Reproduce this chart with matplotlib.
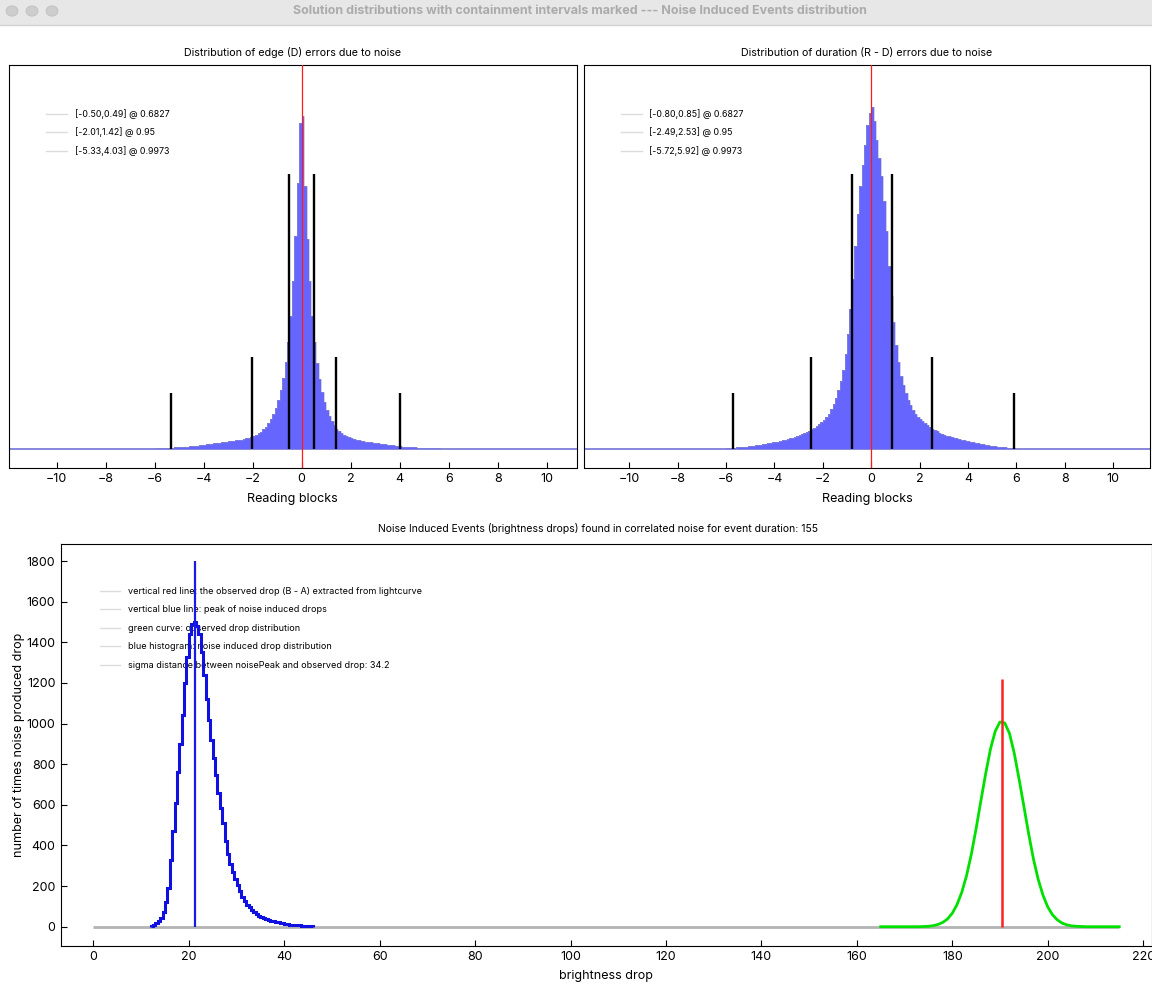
import numpy as np
import matplotlib
matplotlib.use("Agg")
import matplotlib.pyplot as plt
from matplotlib.lines import Line2D
from matplotlib.patches import Rectangle, Circle

plt.rcParams['font.family'] = ['Inter', 'DejaVu Sans']

# ---- data ----
# histogram bins of the two top panels: 0.1 reading blocks wide, -6 .. 6
top_edges = np.round(np.linspace(-6.0, 6.0, 121), 2)

# edge (D) errors, counts per bin (peak bin ~1000), negative side listed from -0.05 outwards
edge_neg = [980, 800, 640, 505, 400, 320, 260, 212, 175, 146,
            122, 103, 88, 76, 66, 58, 51, 46, 42, 38,
            35, 33, 31, 29, 27, 26, 25, 24, 23, 22,
            21, 20, 19, 18, 17, 16, 15, 14, 13, 12,
            11, 10, 9, 8, 8, 7, 6, 6, 5, 5,
            4, 4, 3, 3, 3, 2, 2, 2, 1, 1]
edge_pos = [1000, 790, 630, 505, 400, 320, 258, 208, 170, 140,
            116, 97, 82, 70, 60, 52, 46, 41, 37, 34,
            31, 29, 27, 25, 23, 22, 21, 20, 19, 18,
            17, 16, 15, 14, 13, 12, 11, 10, 9, 8,
            7, 6, 6, 5, 5, 4, 4, 3, 3, 2,
            2, 2, 1, 1, 1, 1, 1, 0, 0, 0]

# duration (R - D) errors
dur_neg = [1010, 975, 915, 855, 790, 705, 610, 510, 420, 345,
           285, 238, 202, 175, 152, 134, 118, 105, 95, 86,
           79, 73, 68, 63, 58, 54, 50, 46, 43, 40,
           37, 35, 33, 31, 29, 27, 25, 23, 21, 20,
           19, 18, 16, 15, 13, 12, 11, 10, 9, 8,
           7, 6, 5, 5, 4, 4, 3, 3, 2, 2]
dur_pos = [1030, 985, 930, 875, 820, 745, 655, 550, 460, 380,
           312, 260, 220, 190, 166, 146, 130, 116, 104, 95,
           88, 82, 77, 71, 65, 60, 56, 52, 48, 45,
           42, 39, 37, 35, 33, 31, 29, 27, 25, 23,
           22, 21, 20, 18, 17, 15, 13, 11, 10, 9,
           8, 7, 6, 5, 5, 4, 3, 3, 2, 2]

edge_counts = edge_neg[::-1] + edge_pos
dur_counts = dur_neg[::-1] + dur_pos

# containment intervals and the height of the marker lines
levels = ['0.6827', '0.95', '0.9973']
marker_heights = [826, 276, 168]
edge_lo = [-0.50, -2.01, -5.33]
edge_hi = [0.49, 1.42, 4.03]
dur_lo = [-0.80, -2.49, -5.72]
dur_hi = [0.85, 2.53, 5.92]

# noise induced drops, 0.5 unit bins from 12 to 46
nie_edges = np.linspace(12, 46, 69)
nie_counts = [3, 10, 18, 30, 45, 70, 120, 190, 330, 470,
              610, 760, 900, 1040, 1200, 1330, 1440, 1490, 1500, 1480,
              1440, 1350, 1240, 1120, 1020, 920, 830, 745, 660, 585,
              510, 420, 360, 310, 270, 235, 205, 175, 145, 125,
              108, 95, 83, 72, 62, 54, 48, 42, 38, 34,
              30, 27, 24, 21, 18, 16, 14, 12, 10, 9,
              8, 7, 6, 5, 4, 4, 3, 2]
noise_peak = 21.2
noise_peak_top = 1800

# observed drop distribution (green curve)
obs_x = list(range(165, 216))
obs_y = [0, 0, 0, 0, 0, 0, 0, 0, 0, 1,
         2, 5, 11, 21, 38, 66, 109, 170, 252, 357,
         483, 620, 753, 874, 962, 1008, 1003, 951, 853, 727,
         594, 459, 335, 234, 156, 98, 59, 34, 18, 9,
         4, 2, 1, 0, 0, 0, 0, 0, 0, 0, 0]
observed_drop = 190.4
observed_top = 1220
sigma_distance = 34.2
event_duration = 155

W, H = 1152, 991
fig = plt.figure(figsize=(W / 100, H / 100), dpi=100)


def px_axes(l, t, r, b):
    return fig.add_axes([l / W, 1 - b / H, (r - l) / W, (b - t) / H])


# fake window title bar
fig.patches.append(Rectangle((0, 1 - 25 / H), 1, 25 / H, transform=fig.transFigure,
                             facecolor='#e7e7e7', edgecolor='none'))
fig.add_artist(Line2D([0, 1], [1 - 25 / H, 1 - 25 / H], transform=fig.transFigure,
                      color='#d0d0d0', lw=1))
for cx in [12, 32, 52]:
    fig.patches.append(Circle((cx / W, 1 - 11 / H), 6 / W, transform=fig.transFigure,
                              facecolor='#cdcdcd', edgecolor='#bdbdbd', lw=0.5))
fig.text(579.5 / W, 1 - 11 / H,
         'Solution distributions with containment intervals marked --- Noise Induced Events distribution',
         ha='center', va='center', fontsize=9, fontweight='bold', color='#ababab')


def top_panel(ax, counts, lo, hi, title, xlim):
    ax.axhline(0, color='#7373d6', lw=1.2, zorder=1)
    ax.stairs(counts, top_edges, fill=True, color='#6666ff', zorder=2)
    ax.stairs(counts, top_edges, color='#9a9ab0', alpha=0.45, lw=0.7, zorder=2)
    for a, b, h in zip(lo, hi, marker_heights):
        ax.vlines([a, b], 0, h, color='black', lw=1.7, zorder=3)
    ax.axvline(0, color='#ff1a1a', lw=0.9, zorder=4)
    handles = [Line2D([], [], color='#dcdcdc', lw=1) for _ in levels]
    labels = ['[%.2f,%.2f] @ %s' % (a, b, p) for a, b, p in zip(lo, hi, levels)]
    ax.legend(handles, labels, loc='upper left', bbox_to_anchor=(0.065, 0.89),
              frameon=False, fontsize=6.4, handlelength=2.4, handletextpad=0.8,
              labelspacing=0.95, borderpad=0, borderaxespad=0)
    ax.set_xlim(*xlim)
    ax.set_ylim(-57, 1155)
    ax.set_xticks(range(-10, 11, 2))
    ax.set_yticks([])
    ax.tick_params(axis='x', direction='in', length=4, labelsize=9, pad=4)
    ax.set_xlabel('Reading blocks', fontsize=9, labelpad=6)
    ax.set_title(title, fontsize=7.7, pad=6.5)


ax1 = px_axes(9.2, 65, 576.5, 467.5)
top_panel(ax1, edge_counts, edge_lo, edge_hi,
          'Distribution of edge (D) errors due to noise', (-11.93, 11.21))
ax2 = px_axes(584, 65, 1150, 467.5)
top_panel(ax2, dur_counts, dur_lo, dur_hi,
          'Distribution of duration (R - D) errors due to noise', (-11.87, 11.52))

ax3 = px_axes(61, 544, 1151.7, 945.7)
ax3.hlines(0, 0, 215, color='#b3b3b3', lw=2, zorder=1)
ax3.stairs(nie_counts, nie_edges, color='#1010e0', lw=2.2, zorder=2)
ax3.plot(obs_x, obs_y, color='#00e000', lw=2, zorder=2)
ax3.vlines(noise_peak, 0, noise_peak_top, color='#1a1ae6', lw=1.6, zorder=3)
ax3.vlines(observed_drop, 0, observed_top, color='#ff2020', lw=1.8, zorder=3)
legend_text = ['vertical red line: the observed drop (B - A) extracted from lightcurve',
               'vertical blue line: peak of noise induced drops',
               'green curve: observed drop distribution',
               'blue histogram: noise induced drop distribution',
               'sigma distance between noisePeak and observed drop: %.1f' % sigma_distance]
handles = [Line2D([], [], color='#dcdcdc', lw=1) for _ in legend_text]
leg = ax3.legend(handles, legend_text, loc='upper left', bbox_to_anchor=(0.036, 0.893),
                 frameon=False, fontsize=6.5, handlelength=2.2, handletextpad=0.9,
                 labelspacing=1.05, borderpad=0, borderaxespad=0)
leg.set_zorder(1.5)
ax3.set_xlim(-6.8, 221.8)
ax3.set_ylim(-93.5, 1884)
ax3.set_xticks(range(0, 221, 20))
ax3.set_yticks(range(0, 1801, 200))
ax3.tick_params(direction='in', length=4, labelsize=9, pad=4)
ax3.set_xlabel('brightness drop', fontsize=9, labelpad=5)
ax3.set_ylabel('number of times noise produced drop', fontsize=9, labelpad=1)
ax3.set_title('Noise Induced Events (brightness drops) found in correlated noise for event duration: %d'
              % event_duration, fontsize=7.5, pad=9, x=0.4927)

fig.savefig('out.png', dpi=100)
